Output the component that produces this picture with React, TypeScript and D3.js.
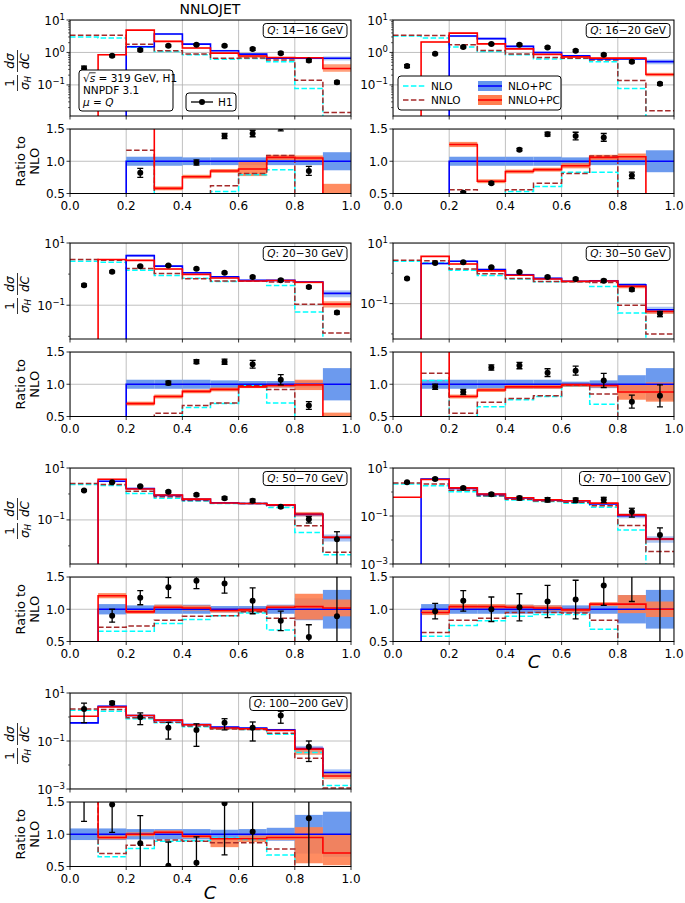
import React from "react";
import * as d3 from "d3";

// bin edges of the C distribution
const EDGES = [0, 0.1, 0.2, 0.3, 0.4, 0.5, 0.6, 0.7, 0.8, 0.9, 1.0];
const X_TICKS = [0, 0.2, 0.4, 0.6, 0.8, 1.0];
const Q_RANGES = ["14−16", "16−20", "20−30", "30−50", "50−70", "70−100", "100−200"];
const Y_MIN = [0.011, 0.011, 0.0082, 0.0068, 0.002, 0.001, 0.001];
const Y_TICKS = [
  [10, 1, 0.1],
  [10, 1, 0.1],
  [10, 0.1],
  [10, 0.1],
  [10, 0.1],
  [10, 0.1, 0.001],
  [10, 0.1, 0.001],
];

// main panel, 1/sigma dsigma/dC  (0 = no prediction, drawn from below the axis)
const NLO = [
  [3.0, 2.8, 1.45, 1.07, 0.85, 0.62, 0.65, 0.52, 0.077, 0.004],
  [3.2, 2.8, 1.47, 1.07, 0.85, 0.63, 0.65, 0.52, 0.077, 0.004],
  [2.6, 2.4, 1.34, 0.91, 0.73, 0.58, 0.6, 0.43, 0.061, 0.003],
  [2.49, 2.19, 1.25, 0.84, 0.65, 0.53, 0.53, 0.37, 0.049, 0.003],
  [2.31, 2.1, 1.04, 0.69, 0.53, 0.43, 0.43, 0.3, 0.033, 0.0045],
  [2.15, 1.83, 1.03, 0.66, 0.46, 0.4, 0.34, 0.23, 0.026, 0.0008],
  [1.9, 1.74, 0.84, 0.57, 0.39, 0.33, 0.3, 0.19, 0.033, 0.0014],
];
const NNLO = [
  [3.4, 3.4, 1.8, 1.13, 0.89, 0.66, 0.68, 0.58, 0.14, 0.014],
  [3.4, 3.3, 1.73, 1.15, 0.89, 0.7, 0.66, 0.58, 0.137, 0.016],
  [2.94, 2.8, 1.52, 1.05, 0.71, 0.6, 0.6, 0.56, 0.107, 0.0127],
  [2.68, 2.6, 1.39, 0.97, 0.68, 0.54, 0.53, 0.5, 0.088, 0.0099],
  [2.52, 2.31, 1.28, 0.78, 0.56, 0.46, 0.43, 0.36, 0.059, 0.0057],
  [2.37, 2.15, 1.17, 0.7, 0.5, 0.42, 0.37, 0.27, 0.04, 0.0033],
  [2.18, 2.05, 0.93, 0.61, 0.42, 0.32, 0.3, 0.21, 0.019, 0.0011],
];
const NLO_PC = [
  [0, 0, 1.5, 3.7, 1.8, 1.13, 0.89, 0.66, 0.66, 0.66],
  [0, 0, 3.2, 2.67, 1.54, 1.0, 0.79, 0.63, 0.63, 0.52],
  [0, 0, 3.94, 1.8, 1.1, 0.82, 0.63, 0.63, 0.56, 0.24],
  [0, 2.1, 2.5, 1.32, 0.9, 0.68, 0.55, 0.57, 0.42, 0.063],
  [0, 3.1, 1.62, 0.88, 0.62, 0.46, 0.43, 0.37, 0.164, 0.021],
  [0, 3.49, 1.42, 0.8, 0.56, 0.46, 0.43, 0.32, 0.103, 0.011],
  [0.57, 2.8, 1.15, 0.72, 0.49, 0.38, 0.35, 0.29, 0.048, 0.0049],
];
const NNLO_PC = [
  [0, 0.85, 4.87, 2.2, 1.37, 0.95, 0.78, 0.7, 0.69, 0.32],
  [0, 2.1, 3.95, 1.84, 1.29, 0.87, 0.73, 0.67, 0.67, 0.21],
  [0, 2.94, 2.76, 1.46, 0.98, 0.75, 0.6, 0.62, 0.55, 0.108],
  [0, 3.63, 2.03, 1.2, 0.86, 0.65, 0.54, 0.56, 0.37, 0.055],
  [0, 3.7, 1.56, 0.91, 0.63, 0.45, 0.43, 0.38, 0.17, 0.0214],
  [0.6, 3.3, 1.48, 0.83, 0.58, 0.47, 0.43, 0.345, 0.111, 0.011],
  [1.08, 2.6, 1.15, 0.74, 0.475, 0.35, 0.325, 0.275, 0.046, 0.0035],
];
const H1 = [
  [0.32, 0.79, 1.2, 1.6, 1.74, 1.6, 1.27, 0.95, 0.56, 0.12],
  [0.38, 0.91, 1.47, 1.82, 1.74, 1.43, 1.13, 0.85, 0.52, 0.108],
  [0.44, 1.18, 1.8, 1.89, 1.48, 1.1, 0.8, 0.64, 0.385, 0.058],
  [0.67, 2.19, 2.3, 1.58, 1.1, 0.76, 0.65, 0.57, 0.29, 0.046],
  [1.36, 2.83, 1.99, 1.21, 0.93, 0.69, 0.55, 0.32, 0.106, 0.018],
  [2.53, 3.49, 1.47, 0.8, 0.56, 0.48, 0.46, 0.48, 0.15, 0.016],
  [2.18, 3.86, 0.98, 0.36, 0.29, 0.57, 0.36, 1.15, 0.057, null],
];
const H1_ERR = [
  [0.06, 0.06, 0.1, 0.1, 0.1, 0.1, 0.1, 0.08, 0.05, 0.012],
  [0.04, 0.06, 0.1, 0.1, 0.1, 0.09, 0.08, 0.06, 0.04, 0.01],
  [0.04, 0.08, 0.1, 0.1, 0.09, 0.07, 0.06, 0.05, 0.03, 0.006],
  [0.05, 0.12, 0.12, 0.09, 0.07, 0.05, 0.05, 0.06, 0.03, 0.009],
  [0.1, 0.15, 0.12, 0.1, 0.09, 0.08, 0.08, 0.03, 0.03, 0.017],
  [0.2, 0.35, 0.15, 0.12, 0.1, 0.1, 0.1, 0.12, 0.06, 0.016],
  [1.6, 0.6, 0.5, 0.24, 0.23, 0.28, 0.26, 0.6, 0.043, null],
];

// ratio panel, everything divided by NLO+PC
const R_NLO = [
  [null, null, 1.0, 0.29, 0.47, 0.53, 0.79, 0.87, 0.12, 0.006],
  [null, null, 0.46, 0.4, 0.53, 0.61, 0.83, 0.83, 0.12, 0.008],
  [null, null, 0.34, 0.48, 0.64, 0.7, 0.98, 0.71, 0.11, 0.012],
  [null, 1.06, 0.48, 0.65, 0.76, 0.81, 0.98, 0.69, 0.12, 0.05],
  [null, 0.66, 0.66, 0.78, 0.84, 0.9, 0.94, 0.68, 0.2, 0.2],
  [null, 0.58, 0.75, 0.82, 0.89, 0.92, 0.92, 0.69, 0.25, 0.07],
  [3.3, 0.65, 0.78, 0.89, 0.9, 0.94, 0.92, 0.68, 0.45, 0.3],
];
const R_NNLO = [
  [null, null, 1.17, 0.31, 0.49, 0.62, 0.81, 1.09, 0.2, 0.02],
  [null, null, 0.56, 0.43, 0.56, 0.66, 0.81, 1.08, 0.22, 0.03],
  [null, null, 0.39, 0.55, 0.67, 0.71, 0.98, 0.92, 0.19, 0.05],
  [null, 1.17, 0.55, 0.72, 0.78, 0.82, 0.99, 0.85, 0.21, 0.16],
  [null, 0.72, 0.74, 0.83, 0.89, 0.9, 0.96, 0.86, 0.36, 0.27],
  [null, 0.64, 0.83, 0.86, 0.95, 0.95, 0.94, 0.83, 0.39, 0.3],
  [3.8, 0.7, 0.83, 0.91, 0.89, 0.87, 0.87, 0.77, 0.4, 0.22],
];
const R_NNLO_PC = [
  [null, null, 3.2, 0.58, 0.76, 0.85, 0.88, 1.06, 1.05, 0.48],
  [null, null, 1.26, 0.69, 0.84, 0.87, 0.93, 1.06, 1.07, 0.4],
  [null, null, 0.7, 0.81, 0.89, 0.92, 0.96, 0.98, 0.99, 0.45],
  [0, 1.7, 0.81, 0.91, 0.96, 0.96, 0.99, 0.98, 0.88, 0.88],
  [0, 1.21, 0.96, 1.03, 1.02, 0.98, 0.99, 1.03, 1.04, 1.02],
  [null, 0.95, 1.04, 1.04, 1.03, 1.02, 0.99, 1.08, 1.08, 1.0],
  [1.9, 0.95, 1.0, 1.03, 0.97, 0.93, 0.93, 0.95, 0.95, 0.71],
];
// NLO+PC band half width (ratio units)
const BAND_NLO_PC = [
  [0, 0, 0.07, 0.07, 0.06, 0.06, 0.06, 0.06, 0.06, 0.14],
  [0, 0, 0.07, 0.07, 0.07, 0.07, 0.06, 0.06, 0.06, 0.17],
  [0, 0, 0.07, 0.07, 0.07, 0.06, 0.05, 0.05, 0.05, 0.25],
  [0, 0.07, 0.07, 0.07, 0.07, 0.07, 0.04, 0.06, 0.14, 0.25],
  [0, 0.08, 0.06, 0.07, 0.07, 0.05, 0.05, 0.07, 0.17, 0.3],
  [0, 0.08, 0.07, 0.07, 0.07, 0.06, 0.06, 0.07, 0.22, 0.3],
  [0.09, 0.09, 0.08, 0.08, 0.08, 0.07, 0.08, 0.1, 0.3, 0.35],
];
// NNLO+PC band, below / above the central ratio
const BAND_NNLO_PC_LO = [
  [0, 0, 0.03, 0.03, 0.03, 0.03, 0.11, 0.04, 0.04, 0.1],
  [0, 0, 0.04, 0.03, 0.03, 0.03, 0.04, 0.04, 0.05, 0.05],
  [0, 0, 0.03, 0.03, 0.03, 0.03, 0.02, 0.03, 0.08, 0.1],
  [0, 0.05, 0.03, 0.03, 0.03, 0.03, 0.03, 0.03, 0.12, 0.15],
  [0, 0.04, 0.03, 0.04, 0.04, 0.03, 0.03, 0.03, 0.2, 0.13],
  [0, 0.04, 0.04, 0.04, 0.04, 0.04, 0.03, 0.03, 0.14, 0.12],
  [0.05, 0.03, 0.03, 0.03, 0.03, 0.13, 0.05, 0.04, 0.4, 0.19],
];
const BAND_NNLO_PC_HI = [
  [0, 0, 0.03, 0.03, 0.03, 0.03, 0.11, 0.04, 0.04, 0.17],
  [0, 0, 0.04, 0.03, 0.03, 0.03, 0.04, 0.04, 0.05, 0.05],
  [0, 0, 0.03, 0.03, 0.03, 0.03, 0.02, 0.03, 0.08, 0.11],
  [0, 0.05, 0.03, 0.03, 0.03, 0.03, 0.03, 0.03, 0.12, 0.15],
  [0, 0.04, 0.03, 0.04, 0.04, 0.03, 0.03, 0.03, 0.2, 0.13],
  [0, 0.04, 0.04, 0.04, 0.04, 0.04, 0.03, 0.03, 0.14, 0.12],
  [0.05, 0.03, 0.03, 0.03, 0.03, 0.01, 0.05, 0.04, 0.16, 0.29],
];
const R_H1 = [
  [null, null, 0.82, 0.43, 0.98, 1.39, 1.43, 1.52, 0.85, 0.18],
  [null, null, 0.51, 0.66, 1.18, 1.42, 1.39, 1.37, 0.78, 0.2],
  [null, null, 0.46, 1.02, 1.35, 1.35, 1.31, 1.07, 0.67, 0.24],
  [null, 0.96, 0.88, 1.26, 1.29, 1.18, 1.21, 1.06, 0.73, 0.82],
  [null, 0.9, 1.18, 1.34, 1.44, 1.4, 1.13, 0.82, 0.57, 0.89],
  [null, 0.97, 1.13, 1.0, 1.03, 1.12, 1.15, 1.37, 1.55, 1.6],
  [3.8, 1.46, 0.86, 0.51, 0.56, 1.48, 1.04, 4.0, 1.25, null],
];
const R_H1_ERR = [
  [0, 0, 0.07, 0.03, 0.04, 0.04, 0.05, 0.05, 0.07, 0.02],
  [0, 0, 0.02, 0.02, 0.02, 0.03, 0.06, 0.06, 0.05, 0.02],
  [0, 0, 0.02, 0.03, 0.03, 0.04, 0.06, 0.08, 0.06, 0.02],
  [0, 0.04, 0.04, 0.04, 0.05, 0.06, 0.07, 0.11, 0.1, 0.17],
  [0, 0.1, 0.11, 0.16, 0.12, 0.15, 0.2, 0.15, 0.19, 0.9],
  [0, 0.12, 0.16, 0.19, 0.21, 0.25, 0.3, 0.31, 0.43, 1.5],
  [2.6, 0.43, 0.43, 0.37, 0.4, 0.8, 1.0, 2.0, 0.8, 0],
];

const FONT = "DejaVu Sans, sans-serif";
const CYAN = "#00ffff";
const BROWN = "#a52a2a";
const BLUE = "#0000ff";
const RED = "#ff0000";
const BLUE_BAND = "#6495ed";
const RED_BAND = "#ff7f50";
const GRID = "#b0b0b0";

const COL_X = [70, 393];
const ROW_TOP = [20, 243, 468, 693];
const PW = 281;
const MAIN_H = 96;
const RATIO_OFF = 109;
const RATIO_H = 64.5;

const ctx = typeof document !== "undefined" ? document.createElement("canvas").getContext("2d") : null;
function textW(s: string, size: number, italic = false) {
  if (!ctx) return s.length * size * 0.6;
  ctx.font = `${italic ? "italic " : ""}${size}px "DejaVu Sans"`;
  return ctx.measureText(s).width;
}

function stepPath(vals: (number | null)[], xs: (v: number) => number, ys: (v: number) => number) {
  let d = "";
  let prev = false;
  vals.forEach((v, i) => {
    if (v == null) {
      prev = false;
      return;
    }
    const a = xs(EDGES[i]);
    const b = xs(EDGES[i + 1]);
    const yy = ys(v);
    d += (prev ? `L${a},${yy}` : `M${a},${yy}`) + `L${b},${yy}`;
    prev = true;
  });
  return d;
}

const sup = (e: number) => (e < 0 ? `−${-e}` : `${e}`);

const Panel = ({ p }: { p: number }) => {
  const row = Math.floor(p / 2);
  const col = p % 2;
  const x0 = COL_X[col];
  const top = ROW_TOP[row];
  const bottom = top + MAIN_H;
  const rTop = top + RATIO_OFF;
  const rBot = rTop + RATIO_H;

  const x = d3.scaleLinear().domain([0, 1]).range([x0, x0 + PW]);
  const y = d3.scaleLog().domain([Y_MIN[p], 10]).range([bottom, top]);
  const r = d3.scaleLinear().domain([0.5, 1.5]).range([rBot, rTop]);
  const ly = (v: number) => (v <= 0 ? bottom + 40 : y(v));

  const mid = (i: number) => x((EDGES[i] + EDGES[i + 1]) / 2);

  // log axis ticks
  const lo = Math.log10(Y_MIN[p]);
  const everyDecade = Y_TICKS[p].length === 3 && Y_TICKS[p][1] === 1;
  const minor: number[] = [];
  if (everyDecade) {
    for (let k = Math.floor(lo); k <= 0; k++) {
      for (let m = 2; m <= 9; m++) {
        const v = m * Math.pow(10, k);
        if (v >= Y_MIN[p] && v <= 10) minor.push(v);
      }
    }
  } else {
    for (let k = Math.ceil(lo); k <= 1; k++) {
      const v = Math.pow(10, k);
      if (!Y_TICKS[p].some((t) => Math.abs(Math.log10(t) - k) < 1e-6)) minor.push(v);
    }
  }

  const nloPcRatio = NLO_PC[p].map((v) => (v > 0 ? 1 : 0));
  const qText = `: ${Q_RANGES[p]} GeV`;
  const qW = textW("Q", 10.5, true) + textW(qText, 10.5) + 8;

  return (
    <g>
      <defs>
        <clipPath id={`cm${p}`}>
          <rect x={x0} y={top} width={PW} height={MAIN_H} />
        </clipPath>
        <clipPath id={`cr${p}`}>
          <rect x={x0} y={rTop} width={PW} height={RATIO_H} />
        </clipPath>
      </defs>

      {/* ---- main panel ---- */}
      <g clipPath={`url(#cm${p})`}>
        {X_TICKS.map((t) => (
          <line key={t} x1={x(t)} x2={x(t)} y1={top} y2={bottom} stroke={GRID} strokeWidth={0.8} />
        ))}
        {Y_TICKS[p].map((t) => (
          <line key={t} x1={x0} x2={x0 + PW} y1={y(t)} y2={y(t)} stroke={GRID} strokeWidth={0.8} />
        ))}
        {NLO_PC[p].map((v, i) =>
          v > 0 ? (
            <rect
              key={`bb${i}`}
              x={x(EDGES[i])}
              width={x(EDGES[i + 1]) - x(EDGES[i])}
              y={ly(v * (1 + BAND_NLO_PC[p][i]))}
              height={ly(v * (1 - BAND_NLO_PC[p][i])) - ly(v * (1 + BAND_NLO_PC[p][i]))}
              fill={BLUE_BAND}
              opacity={0.55}
            />
          ) : null
        )}
        {NNLO_PC[p].map((v, i) => {
          if (!(v > 0)) return null;
          const rv = R_NNLO_PC[p][i];
          const dl = rv && rv > 0 ? BAND_NNLO_PC_LO[p][i] / rv : 0.04;
          const dh = rv && rv > 0 ? BAND_NNLO_PC_HI[p][i] / rv : 0.04;
          return (
            <rect
              key={`rb${i}`}
              x={x(EDGES[i])}
              width={x(EDGES[i + 1]) - x(EDGES[i])}
              y={ly(v * (1 + dh))}
              height={ly(v * Math.max(1 - dl, 0.05)) - ly(v * (1 + dh))}
              fill={RED_BAND}
              opacity={0.75}
            />
          );
        })}
        <path d={stepPath(NLO[p], x, ly)} fill="none" stroke={CYAN} strokeWidth={1.5} strokeDasharray="5.5,2.4" />
        <path d={stepPath(NNLO[p], x, ly)} fill="none" stroke={BROWN} strokeWidth={1.5} strokeDasharray="5.5,2.4" />
        <path d={stepPath(NLO_PC[p], x, ly)} fill="none" stroke={BLUE} strokeWidth={1.6} />
        <path d={stepPath(NNLO_PC[p], x, ly)} fill="none" stroke={RED} strokeWidth={1.6} />
        {H1[p].map((v, i) => {
          if (v == null) return null;
          const e = H1_ERR[p][i] ?? 0;
          const cx = mid(i);
          const yHi = ly(v + e);
          const yLo = ly(v - e);
          return (
            <g key={`d${i}`}>
              <line x1={cx} x2={cx} y1={yHi} y2={yLo} stroke="black" strokeWidth={1.3} />
              <line x1={cx - 3} x2={cx + 3} y1={yHi} y2={yHi} stroke="black" strokeWidth={1.3} />
              <line x1={cx - 3} x2={cx + 3} y1={yLo} y2={yLo} stroke="black" strokeWidth={1.3} />
              <circle cx={cx} cy={ly(v)} r={3} fill="black" />
            </g>
          );
        })}
      </g>
      <rect x={x0} y={top} width={PW} height={MAIN_H} fill="none" stroke="black" strokeWidth={1} />
      {X_TICKS.map((t) => (
        <line key={t} x1={x(t)} x2={x(t)} y1={bottom} y2={bottom + 3.5} stroke="black" strokeWidth={0.8} />
      ))}
      {Y_TICKS[p].map((t) => (
        <g key={t}>
          <line x1={x0 - 3.5} x2={x0} y1={y(t)} y2={y(t)} stroke="black" strokeWidth={0.8} />
          <text x={x0 - 5} y={y(t) + 4.5} textAnchor="end" fontSize={12}>
            10<tspan dy={-5} fontSize={8.5}>{sup(Math.round(Math.log10(t)))}</tspan>
          </text>
        </g>
      ))}
      {minor.map((v) => (
        <line key={v} x1={x0 - 2} x2={x0} y1={y(v)} y2={y(v)} stroke="black" strokeWidth={0.6} />
      ))}
      <rect
        x={x0 + PW - 4 - qW}
        y={top + 3.5}
        width={qW}
        height={14}
        rx={3}
        fill="white"
        stroke="black"
        strokeWidth={1}
      />
      <text x={x0 + PW - qW} y={top + 14.3} fontSize={10.5}>
        <tspan fontStyle="italic">Q</tspan>
        {qText}
      </text>

      {/* ---- ratio panel ---- */}
      <g clipPath={`url(#cr${p})`}>
        {X_TICKS.map((t) => (
          <line key={t} x1={x(t)} x2={x(t)} y1={rTop} y2={rBot} stroke={GRID} strokeWidth={0.8} />
        ))}
        {[0.5, 1.0, 1.5].map((t) => (
          <line key={t} x1={x0} x2={x0 + PW} y1={r(t)} y2={r(t)} stroke={GRID} strokeWidth={0.8} />
        ))}
        {NLO_PC[p].map((v, i) =>
          v > 0 ? (
            <rect
              key={`rbb${i}`}
              x={x(EDGES[i])}
              width={x(EDGES[i + 1]) - x(EDGES[i])}
              y={r(1 + BAND_NLO_PC[p][i])}
              height={r(1 - BAND_NLO_PC[p][i]) - r(1 + BAND_NLO_PC[p][i])}
              fill={BLUE_BAND}
              opacity={0.95}
            />
          ) : null
        )}
        {R_NNLO_PC[p].map((v, i) =>
          v != null && v > 0 ? (
            <rect
              key={`rrb${i}`}
              x={x(EDGES[i])}
              width={x(EDGES[i + 1]) - x(EDGES[i])}
              y={r(v + BAND_NNLO_PC_HI[p][i])}
              height={r(v - BAND_NNLO_PC_LO[p][i]) - r(v + BAND_NNLO_PC_HI[p][i])}
              fill={RED_BAND}
              opacity={0.9}
            />
          ) : null
        )}
        <path d={stepPath(R_NLO[p], x, r)} fill="none" stroke={CYAN} strokeWidth={1.5} strokeDasharray="5.5,2.4" />
        <path d={stepPath(R_NNLO[p], x, r)} fill="none" stroke={BROWN} strokeWidth={1.5} strokeDasharray="5.5,2.4" />
        <path d={stepPath(nloPcRatio, x, r)} fill="none" stroke={BLUE} strokeWidth={1.6} />
        <path d={stepPath(R_NNLO_PC[p], x, r)} fill="none" stroke={RED} strokeWidth={1.6} />
        {R_H1[p].map((v, i) => {
          if (v == null) return null;
          const e = R_H1_ERR[p][i];
          const cx = mid(i);
          return (
            <g key={`rd${i}`}>
              <line x1={cx} x2={cx} y1={r(v + e)} y2={r(v - e)} stroke="black" strokeWidth={1.3} />
              <line x1={cx - 3} x2={cx + 3} y1={r(v + e)} y2={r(v + e)} stroke="black" strokeWidth={1.3} />
              <line x1={cx - 3} x2={cx + 3} y1={r(v - e)} y2={r(v - e)} stroke="black" strokeWidth={1.3} />
              <circle cx={cx} cy={r(v)} r={3} fill="black" />
            </g>
          );
        })}
      </g>
      <rect x={x0} y={rTop} width={PW} height={RATIO_H} fill="none" stroke="black" strokeWidth={1} />
      {X_TICKS.map((t) => (
        <g key={t}>
          <line x1={x(t)} x2={x(t)} y1={rBot} y2={rBot + 3.5} stroke="black" strokeWidth={0.8} />
          <text x={x(t)} y={rBot + 16} textAnchor="middle" fontSize={12}>
            {t.toFixed(1)}
          </text>
        </g>
      ))}
      {[0.5, 1.0, 1.5].map((t) => (
        <g key={t}>
          <line x1={x0 - 3.5} x2={x0} y1={r(t)} y2={r(t)} stroke="black" strokeWidth={0.8} />
          <text x={x0 - 5} y={r(t) + 4.3} textAnchor="end" fontSize={12}>
            {t.toFixed(1)}
          </text>
        </g>
      ))}

      {/* axis titles, left column only */}
      {col === 0 && (
        <g>
          <g transform={`translate(17,${(top + bottom) / 2 + 2}) rotate(-90)`} fontSize={12}>
            <text x={-13} y={-3} textAnchor="middle">1</text>
            <line x1={-21} x2={-5} y1={0.5} y2={0.5} stroke="black" strokeWidth={0.8} />
            <text x={-13} y={12} textAnchor="middle">
              <tspan fontStyle="italic">σ</tspan>
              <tspan fontStyle="italic" fontSize={8.5} dy={2}>H</tspan>
            </text>
            <text x={9} y={-3} textAnchor="middle" fontStyle="italic">dσ</text>
            <line x1={-2} x2={20} y1={0.5} y2={0.5} stroke="black" strokeWidth={0.8} />
            <text x={9} y={12} textAnchor="middle" fontStyle="italic">dC</text>
          </g>
          <g transform={`translate(25,${(rTop + rBot) / 2}) rotate(-90)`} fontSize={13}>
            <text x={0} y={0} textAnchor="middle">Ratio to</text>
            <text x={0} y={14} textAnchor="middle">NLO</text>
          </g>
        </g>
      )}
    </g>
  );
};

const App = () => {
  const sqrtW = textW("√", 10.5);
  const sW = textW("s", 10.5, true);
  return (
    <svg
      width={685}
      height={903}
      style={{ position: "absolute", left: 0, top: 0, display: "block" }}
      fontFamily={FONT}
    >
      <rect width={685} height={903} fill="white" />
      <text x={210} y={14} textAnchor="middle" fontSize={14}>
        NNLOJET
      </text>
      {Q_RANGES.map((_, p) => (
        <Panel key={p} p={p} />
      ))}

      {/* info box, first panel */}
      <rect x={79} y={70} width={94} height={41} rx={3} fill="white" stroke="black" strokeWidth={1} />
      <text x={83} y={82} fontSize={10.5}>
        √<tspan fontStyle="italic">s</tspan> = 319 GeV, H1
      </text>
      <line x1={83 + sqrtW - 0.5} x2={83 + sqrtW + sW + 0.5} y1={72.8} y2={72.8} stroke="black" strokeWidth={0.8} />
      <text x={83} y={94} fontSize={10.5}>NNPDF 3.1</text>
      <text x={83} y={106} fontSize={10.5}>
        <tspan fontStyle="italic">μ</tspan> = <tspan fontStyle="italic">Q</tspan>
      </text>

      {/* H1 legend */}
      <rect x={186} y={93} width={50} height={18} rx={3} fill="white" stroke="black" strokeWidth={1} />
      <line x1={191} x2={213} y1={102} y2={102} stroke="black" strokeWidth={1.3} />
      <circle cx={202} cy={102} r={3} fill="black" />
      <text x={218} y={106} fontSize={10.5}>H1</text>

      {/* theory legend, second panel */}
      <rect x={398} y={76} width={163} height={34} rx={3} fill="white" stroke="black" strokeWidth={1} />
      <line x1={403} x2={425} y1={86} y2={86} stroke={CYAN} strokeWidth={1.5} strokeDasharray="5.5,2.4" />
      <text x={431} y={90} fontSize={10.5}>NLO</text>
      <line x1={403} x2={425} y1={100} y2={100} stroke={BROWN} strokeWidth={1.5} strokeDasharray="5.5,2.4" />
      <text x={431} y={104} fontSize={10.5}>NNLO</text>
      <rect x={478} y={81} width={24} height={10} fill={BLUE_BAND} />
      <line x1={478} x2={502} y1={86} y2={86} stroke={BLUE} strokeWidth={1.6} />
      <text x={508} y={90} fontSize={10.5}>NLO+PC</text>
      <rect x={478} y={95} width={24} height={10} fill={RED_BAND} />
      <line x1={478} x2={502} y1={100} y2={100} stroke={RED} strokeWidth={1.6} />
      <text x={508} y={104} fontSize={10.5}>NNLO+PC</text>

      {/* x axis titles */}
      <text x={534} y={668} textAnchor="middle" fontSize={18} fontStyle="italic">C</text>
      <text x={210} y={899} textAnchor="middle" fontSize={18} fontStyle="italic">C</text>
    </svg>
  );
};

export default App;
